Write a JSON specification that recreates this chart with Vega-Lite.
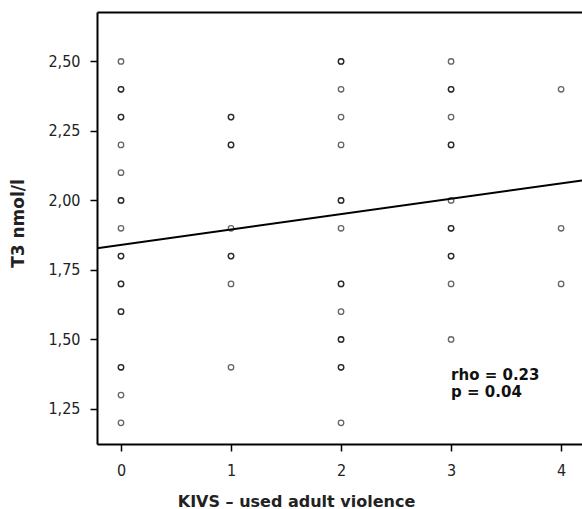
{
  "$schema": "https://vega.github.io/schema/vega-lite/v6.json",
  "autosize": {"type": "none"},
  "width": 485,
  "height": 432,
  "padding": {"left": 97, "top": 12, "right": 0, "bottom": 65},
  "background": "white",
  "config": {
    "view": {"stroke": null},
    "axis": {
      "grid": false,
      "domainColor": "#000",
      "domainWidth": 2,
      "tickColor": "#000",
      "tickWidth": 1.5,
      "tickSize": 7,
      "labelFont": "DejaVu Sans Condensed",
      "labelFontSize": 16,
      "labelColor": "#222",
      "titleFont": "DejaVu Sans",
      "titleFontWeight": "bold",
      "titleColor": "#222"
    }
  },
  "datasets": {
    "pts": [
      {"kivs": 0, "t3": 2.5}, {"kivs": 0, "t3": 2.4}, {"kivs": 0, "t3": 2.4}, {"kivs": 0, "t3": 2.3}, {"kivs": 0, "t3": 2.3},
      {"kivs": 0, "t3": 2.2}, {"kivs": 0, "t3": 2.1}, {"kivs": 0, "t3": 2.0}, {"kivs": 0, "t3": 2.0}, {"kivs": 0, "t3": 1.9},
      {"kivs": 0, "t3": 1.8}, {"kivs": 0, "t3": 1.8}, {"kivs": 0, "t3": 1.7}, {"kivs": 0, "t3": 1.7}, {"kivs": 0, "t3": 1.6},
      {"kivs": 0, "t3": 1.6}, {"kivs": 0, "t3": 1.4}, {"kivs": 0, "t3": 1.4}, {"kivs": 0, "t3": 1.3}, {"kivs": 0, "t3": 1.2},
      {"kivs": 1, "t3": 2.3}, {"kivs": 1, "t3": 2.3}, {"kivs": 1, "t3": 2.2}, {"kivs": 1, "t3": 2.2}, {"kivs": 1, "t3": 1.9},
      {"kivs": 1, "t3": 1.8}, {"kivs": 1, "t3": 1.8}, {"kivs": 1, "t3": 1.7}, {"kivs": 1, "t3": 1.4},
      {"kivs": 2, "t3": 2.5}, {"kivs": 2, "t3": 2.5}, {"kivs": 2, "t3": 2.4}, {"kivs": 2, "t3": 2.3}, {"kivs": 2, "t3": 2.2},
      {"kivs": 2, "t3": 2.0}, {"kivs": 2, "t3": 2.0}, {"kivs": 2, "t3": 1.9}, {"kivs": 2, "t3": 1.7}, {"kivs": 2, "t3": 1.7},
      {"kivs": 2, "t3": 1.6}, {"kivs": 2, "t3": 1.5}, {"kivs": 2, "t3": 1.5}, {"kivs": 2, "t3": 1.4}, {"kivs": 2, "t3": 1.4},
      {"kivs": 2, "t3": 1.2},
      {"kivs": 3, "t3": 2.5}, {"kivs": 3, "t3": 2.4}, {"kivs": 3, "t3": 2.4}, {"kivs": 3, "t3": 2.3}, {"kivs": 3, "t3": 2.2},
      {"kivs": 3, "t3": 2.2}, {"kivs": 3, "t3": 2.0}, {"kivs": 3, "t3": 1.9}, {"kivs": 3, "t3": 1.9}, {"kivs": 3, "t3": 1.8},
      {"kivs": 3, "t3": 1.8}, {"kivs": 3, "t3": 1.7}, {"kivs": 3, "t3": 1.5},
      {"kivs": 4, "t3": 2.4}, {"kivs": 4, "t3": 1.9}, {"kivs": 4, "t3": 1.7}
    ],
    "fit": [
      {"kivs": -0.218, "t3": 1.828},
      {"kivs": 4.19, "t3": 2.072}
    ],
    "note": [
      {"kivs": 3, "t3": 1.354, "label": "rho = 0.23"},
      {"kivs": 3, "t3": 1.293, "label": "p = 0.04"}
    ]
  },
  "resolve": {"axis": {"x": "independent", "y": "independent"}},
  "layer": [
    {
      "data": {"name": "pts"},
      "mark": {"type": "point", "shape": "circle", "filled": false, "size": 30, "strokeWidth": 1.3, "color": "#000", "opacity": 0.6},
      "encoding": {
        "x": {
          "field": "kivs", "type": "quantitative",
          "scale": {"domain": [-0.218, 4.19], "nice": false, "zero": false},
          "axis": {
            "values": [0, 1, 2, 3, 4], "format": "d", "labelPadding": 11,
            "title": "KIVS – used adult violence", "titleFontSize": 16,
            "titleX": 199, "titleY": 62, "titleAlign": "center", "titleBaseline": "alphabetic", "titleAnchor": null
          }
        },
        "y": {
          "field": "t3", "type": "quantitative",
          "scale": {"domain": [1.124, 2.678], "nice": false, "zero": false},
          "axis": {
            "values": [1.25, 1.5, 1.75, 2.0, 2.25, 2.5],
            "labelExpr": "replace(format(datum.value, '.2f'), '.', ',')",
            "labelPadding": 10,
            "title": "T3 nmol/l", "titleFontSize": 17,
            "titleX": -74, "titleY": 211, "titleAngle": -90, "titleAlign": "center", "titleBaseline": "alphabetic", "titleAnchor": null
          }
        }
      }
    },
    {
      "data": {"name": "fit"},
      "mark": {"type": "line", "color": "#000", "strokeWidth": 2, "clip": true},
      "encoding": {
        "x": {"field": "kivs", "type": "quantitative", "axis": {"orient": "top", "labels": false, "ticks": false, "title": null, "domain": true}},
        "y": {"field": "t3", "type": "quantitative", "axis": null}
      }
    },
    {
      "data": {"name": "note"},
      "mark": {"type": "text", "align": "left", "baseline": "alphabetic", "font": "DejaVu Sans", "fontWeight": "bold", "fontSize": 15, "color": "#111"},
      "encoding": {
        "x": {"field": "kivs", "type": "quantitative", "axis": null},
        "y": {"field": "t3", "type": "quantitative", "axis": null},
        "text": {"field": "label"}
      }
    }
  ]
}
